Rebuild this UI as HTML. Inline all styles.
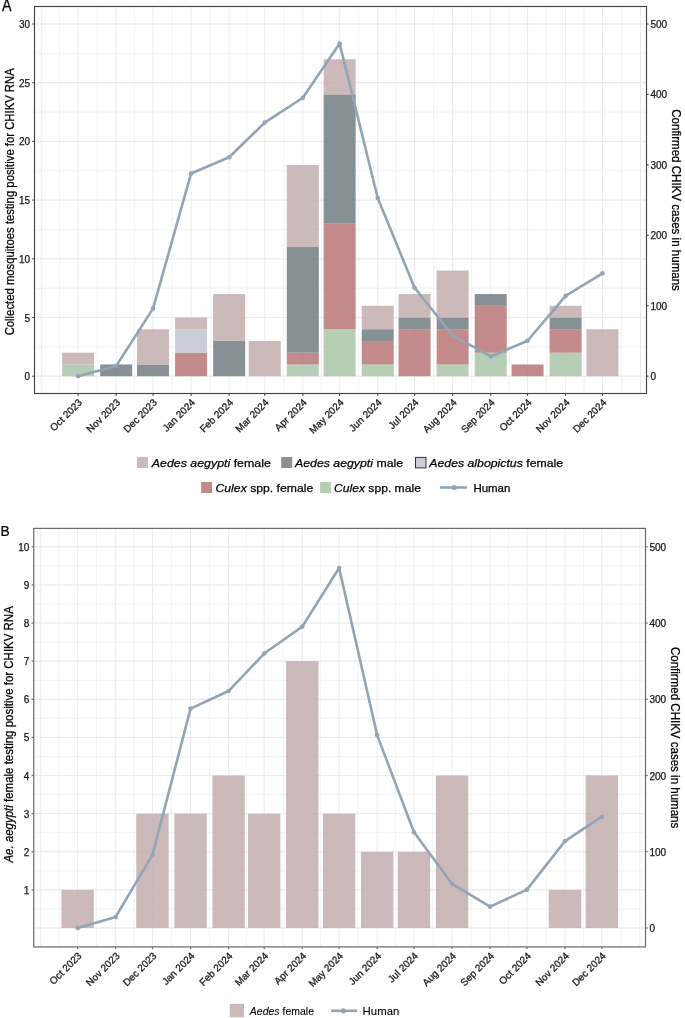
<!DOCTYPE html>
<html><head><meta charset="utf-8"><style>
html,body{margin:0;padding:0;background:#fff;}
svg{display:block;will-change:transform;font-variant-ligatures:none;}
text{stroke:currentColor;stroke-width:0.25px;paint-order:stroke;}
</style></head><body>
<svg width="685" height="1018" viewBox="0 0 685 1018" font-family='"Liberation Sans", sans-serif'>
<rect width="685" height="1018" fill="#ffffff"/>
<g>
<clipPath id="clipA"><rect x="34.5" y="6.5" width="612.0" height="387.0"/></clipPath>
<g clip-path="url(#clipA)">
<line x1="59.68" y1="6.5" x2="59.68" y2="393.5" stroke="#f2f2f2" stroke-width="1"/>
<line x1="97.13" y1="6.5" x2="97.13" y2="393.5" stroke="#f2f2f2" stroke-width="1"/>
<line x1="134.59" y1="6.5" x2="134.59" y2="393.5" stroke="#f2f2f2" stroke-width="1"/>
<line x1="172.04" y1="6.5" x2="172.04" y2="393.5" stroke="#f2f2f2" stroke-width="1"/>
<line x1="210.11" y1="6.5" x2="210.11" y2="393.5" stroke="#f2f2f2" stroke-width="1"/>
<line x1="246.95" y1="6.5" x2="246.95" y2="393.5" stroke="#f2f2f2" stroke-width="1"/>
<line x1="283.79" y1="6.5" x2="283.79" y2="393.5" stroke="#f2f2f2" stroke-width="1"/>
<line x1="321.24" y1="6.5" x2="321.24" y2="393.5" stroke="#f2f2f2" stroke-width="1"/>
<line x1="358.70" y1="6.5" x2="358.70" y2="393.5" stroke="#f2f2f2" stroke-width="1"/>
<line x1="396.15" y1="6.5" x2="396.15" y2="393.5" stroke="#f2f2f2" stroke-width="1"/>
<line x1="433.61" y1="6.5" x2="433.61" y2="393.5" stroke="#f2f2f2" stroke-width="1"/>
<line x1="471.67" y1="6.5" x2="471.67" y2="393.5" stroke="#f2f2f2" stroke-width="1"/>
<line x1="509.13" y1="6.5" x2="509.13" y2="393.5" stroke="#f2f2f2" stroke-width="1"/>
<line x1="546.58" y1="6.5" x2="546.58" y2="393.5" stroke="#f2f2f2" stroke-width="1"/>
<line x1="584.04" y1="6.5" x2="584.04" y2="393.5" stroke="#f2f2f2" stroke-width="1"/>
<line x1="621.49" y1="6.5" x2="621.49" y2="393.5" stroke="#f2f2f2" stroke-width="1"/>
<line x1="34.5" y1="376.20" x2="646.5" y2="376.20" stroke="#f2f2f2" stroke-width="1"/>
<line x1="34.5" y1="346.85" x2="646.5" y2="346.85" stroke="#f2f2f2" stroke-width="1"/>
<line x1="34.5" y1="317.50" x2="646.5" y2="317.50" stroke="#f2f2f2" stroke-width="1"/>
<line x1="34.5" y1="288.15" x2="646.5" y2="288.15" stroke="#f2f2f2" stroke-width="1"/>
<line x1="34.5" y1="258.80" x2="646.5" y2="258.80" stroke="#f2f2f2" stroke-width="1"/>
<line x1="34.5" y1="229.45" x2="646.5" y2="229.45" stroke="#f2f2f2" stroke-width="1"/>
<line x1="34.5" y1="200.10" x2="646.5" y2="200.10" stroke="#f2f2f2" stroke-width="1"/>
<line x1="34.5" y1="170.75" x2="646.5" y2="170.75" stroke="#f2f2f2" stroke-width="1"/>
<line x1="34.5" y1="141.40" x2="646.5" y2="141.40" stroke="#f2f2f2" stroke-width="1"/>
<line x1="34.5" y1="112.05" x2="646.5" y2="112.05" stroke="#f2f2f2" stroke-width="1"/>
<line x1="34.5" y1="82.70" x2="646.5" y2="82.70" stroke="#f2f2f2" stroke-width="1"/>
<line x1="34.5" y1="53.35" x2="646.5" y2="53.35" stroke="#f2f2f2" stroke-width="1"/>
<line x1="34.5" y1="24.00" x2="646.5" y2="24.00" stroke="#f2f2f2" stroke-width="1"/>
<line x1="41.26" y1="6.5" x2="41.26" y2="393.5" stroke="#ebebeb" stroke-width="1"/>
<line x1="78.10" y1="6.5" x2="78.10" y2="393.5" stroke="#ebebeb" stroke-width="1"/>
<line x1="116.17" y1="6.5" x2="116.17" y2="393.5" stroke="#ebebeb" stroke-width="1"/>
<line x1="153.01" y1="6.5" x2="153.01" y2="393.5" stroke="#ebebeb" stroke-width="1"/>
<line x1="191.08" y1="6.5" x2="191.08" y2="393.5" stroke="#ebebeb" stroke-width="1"/>
<line x1="229.14" y1="6.5" x2="229.14" y2="393.5" stroke="#ebebeb" stroke-width="1"/>
<line x1="264.76" y1="6.5" x2="264.76" y2="393.5" stroke="#ebebeb" stroke-width="1"/>
<line x1="302.82" y1="6.5" x2="302.82" y2="393.5" stroke="#ebebeb" stroke-width="1"/>
<line x1="339.66" y1="6.5" x2="339.66" y2="393.5" stroke="#ebebeb" stroke-width="1"/>
<line x1="377.73" y1="6.5" x2="377.73" y2="393.5" stroke="#ebebeb" stroke-width="1"/>
<line x1="414.57" y1="6.5" x2="414.57" y2="393.5" stroke="#ebebeb" stroke-width="1"/>
<line x1="452.64" y1="6.5" x2="452.64" y2="393.5" stroke="#ebebeb" stroke-width="1"/>
<line x1="490.71" y1="6.5" x2="490.71" y2="393.5" stroke="#ebebeb" stroke-width="1"/>
<line x1="527.55" y1="6.5" x2="527.55" y2="393.5" stroke="#ebebeb" stroke-width="1"/>
<line x1="565.62" y1="6.5" x2="565.62" y2="393.5" stroke="#ebebeb" stroke-width="1"/>
<line x1="602.46" y1="6.5" x2="602.46" y2="393.5" stroke="#ebebeb" stroke-width="1"/>
<line x1="640.52" y1="6.5" x2="640.52" y2="393.5" stroke="#ebebeb" stroke-width="1"/>
<line x1="34.5" y1="376.20" x2="646.5" y2="376.20" stroke="#ebebeb" stroke-width="1"/>
<line x1="34.5" y1="317.50" x2="646.5" y2="317.50" stroke="#ebebeb" stroke-width="1"/>
<line x1="34.5" y1="258.80" x2="646.5" y2="258.80" stroke="#ebebeb" stroke-width="1"/>
<line x1="34.5" y1="200.10" x2="646.5" y2="200.10" stroke="#ebebeb" stroke-width="1"/>
<line x1="34.5" y1="141.40" x2="646.5" y2="141.40" stroke="#ebebeb" stroke-width="1"/>
<line x1="34.5" y1="82.70" x2="646.5" y2="82.70" stroke="#ebebeb" stroke-width="1"/>
<line x1="34.5" y1="24.00" x2="646.5" y2="24.00" stroke="#ebebeb" stroke-width="1"/>
<rect x="62.10" y="364.46" width="32.00" height="11.74" fill="#a9c4a9" fill-opacity="0.85"/>
<rect x="62.10" y="352.72" width="32.00" height="11.74" fill="#c3adad" fill-opacity="0.85"/>
<rect x="100.17" y="364.46" width="32.00" height="11.74" fill="#717c83" fill-opacity="0.85"/>
<rect x="137.01" y="364.46" width="32.00" height="11.74" fill="#717c83" fill-opacity="0.85"/>
<rect x="137.01" y="329.24" width="32.00" height="35.22" fill="#c3adad" fill-opacity="0.85"/>
<rect x="175.08" y="352.72" width="32.00" height="23.48" fill="#b77575" fill-opacity="0.85"/>
<rect x="175.08" y="329.24" width="32.00" height="23.48" fill="#c4c4d3" fill-opacity="0.85"/>
<rect x="175.08" y="317.50" width="32.00" height="11.74" fill="#c3adad" fill-opacity="0.85"/>
<rect x="213.14" y="340.98" width="32.00" height="35.22" fill="#717c83" fill-opacity="0.85"/>
<rect x="213.14" y="294.02" width="32.00" height="46.96" fill="#c3adad" fill-opacity="0.85"/>
<rect x="248.76" y="340.98" width="32.00" height="35.22" fill="#c3adad" fill-opacity="0.85"/>
<rect x="286.82" y="364.46" width="32.00" height="11.74" fill="#a9c4a9" fill-opacity="0.85"/>
<rect x="286.82" y="352.72" width="32.00" height="11.74" fill="#b77575" fill-opacity="0.85"/>
<rect x="286.82" y="247.06" width="32.00" height="105.66" fill="#717c83" fill-opacity="0.85"/>
<rect x="286.82" y="164.88" width="32.00" height="82.18" fill="#c3adad" fill-opacity="0.85"/>
<rect x="323.66" y="329.24" width="32.00" height="46.96" fill="#a9c4a9" fill-opacity="0.85"/>
<rect x="323.66" y="223.58" width="32.00" height="105.66" fill="#b77575" fill-opacity="0.85"/>
<rect x="323.66" y="94.44" width="32.00" height="129.14" fill="#717c83" fill-opacity="0.85"/>
<rect x="323.66" y="59.22" width="32.00" height="35.22" fill="#c3adad" fill-opacity="0.85"/>
<rect x="361.73" y="364.46" width="32.00" height="11.74" fill="#a9c4a9" fill-opacity="0.85"/>
<rect x="361.73" y="340.98" width="32.00" height="23.48" fill="#b77575" fill-opacity="0.85"/>
<rect x="361.73" y="329.24" width="32.00" height="11.74" fill="#717c83" fill-opacity="0.85"/>
<rect x="361.73" y="305.76" width="32.00" height="23.48" fill="#c3adad" fill-opacity="0.85"/>
<rect x="398.57" y="329.24" width="32.00" height="46.96" fill="#b77575" fill-opacity="0.85"/>
<rect x="398.57" y="317.50" width="32.00" height="11.74" fill="#717c83" fill-opacity="0.85"/>
<rect x="398.57" y="294.02" width="32.00" height="23.48" fill="#c3adad" fill-opacity="0.85"/>
<rect x="436.64" y="364.46" width="32.00" height="11.74" fill="#a9c4a9" fill-opacity="0.85"/>
<rect x="436.64" y="329.24" width="32.00" height="35.22" fill="#b77575" fill-opacity="0.85"/>
<rect x="436.64" y="317.50" width="32.00" height="11.74" fill="#717c83" fill-opacity="0.85"/>
<rect x="436.64" y="270.54" width="32.00" height="46.96" fill="#c3adad" fill-opacity="0.85"/>
<rect x="474.71" y="352.72" width="32.00" height="23.48" fill="#a9c4a9" fill-opacity="0.85"/>
<rect x="474.71" y="305.76" width="32.00" height="46.96" fill="#b77575" fill-opacity="0.85"/>
<rect x="474.71" y="294.02" width="32.00" height="11.74" fill="#717c83" fill-opacity="0.85"/>
<rect x="511.55" y="364.46" width="32.00" height="11.74" fill="#b77575" fill-opacity="0.85"/>
<rect x="549.62" y="352.72" width="32.00" height="23.48" fill="#a9c4a9" fill-opacity="0.85"/>
<rect x="549.62" y="329.24" width="32.00" height="23.48" fill="#b77575" fill-opacity="0.85"/>
<rect x="549.62" y="317.50" width="32.00" height="11.74" fill="#717c83" fill-opacity="0.85"/>
<rect x="549.62" y="305.76" width="32.00" height="11.74" fill="#c3adad" fill-opacity="0.85"/>
<rect x="586.46" y="329.24" width="32.00" height="46.96" fill="#c3adad" fill-opacity="0.85"/>
<polyline points="78.10,376.20 116.17,365.99 153.01,308.58 191.08,173.47 229.14,157.27 264.76,122.62 302.82,97.75 339.66,43.58 377.73,197.99 414.57,287.80 452.64,335.34 490.71,356.48 527.55,340.77 565.62,295.90 602.46,273.36" fill="none" stroke="#92a4b5" stroke-width="2.6" stroke-linejoin="round" stroke-linecap="butt"/>
<circle cx="78.10" cy="376.20" r="2.3" fill="#92a4b5"/>
<circle cx="116.17" cy="365.99" r="2.3" fill="#92a4b5"/>
<circle cx="153.01" cy="308.58" r="2.3" fill="#92a4b5"/>
<circle cx="191.08" cy="173.47" r="2.3" fill="#92a4b5"/>
<circle cx="229.14" cy="157.27" r="2.3" fill="#92a4b5"/>
<circle cx="264.76" cy="122.62" r="2.3" fill="#92a4b5"/>
<circle cx="302.82" cy="97.75" r="2.3" fill="#92a4b5"/>
<circle cx="339.66" cy="43.58" r="2.3" fill="#92a4b5"/>
<circle cx="377.73" cy="197.99" r="2.3" fill="#92a4b5"/>
<circle cx="414.57" cy="287.80" r="2.3" fill="#92a4b5"/>
<circle cx="452.64" cy="335.34" r="2.3" fill="#92a4b5"/>
<circle cx="490.71" cy="356.48" r="2.3" fill="#92a4b5"/>
<circle cx="527.55" cy="340.77" r="2.3" fill="#92a4b5"/>
<circle cx="565.62" cy="295.90" r="2.3" fill="#92a4b5"/>
<circle cx="602.46" cy="273.36" r="2.3" fill="#92a4b5"/>
</g>
<rect x="34.5" y="6.5" width="612.0" height="387.0" fill="none" stroke="#444444" stroke-width="1.15"/>
<line x1="32.3" y1="376.20" x2="34.5" y2="376.20" stroke="#444444" stroke-width="1.15"/>
<text x="30.099999999999998" y="380.20" font-size="10.0" text-anchor="end" fill="#1a1a1a">0</text>
<line x1="32.3" y1="317.50" x2="34.5" y2="317.50" stroke="#444444" stroke-width="1.15"/>
<text x="30.099999999999998" y="321.50" font-size="10.0" text-anchor="end" fill="#1a1a1a">5</text>
<line x1="32.3" y1="258.80" x2="34.5" y2="258.80" stroke="#444444" stroke-width="1.15"/>
<text x="30.099999999999998" y="262.80" font-size="10.0" text-anchor="end" fill="#1a1a1a">10</text>
<line x1="32.3" y1="200.10" x2="34.5" y2="200.10" stroke="#444444" stroke-width="1.15"/>
<text x="30.099999999999998" y="204.10" font-size="10.0" text-anchor="end" fill="#1a1a1a">15</text>
<line x1="32.3" y1="141.40" x2="34.5" y2="141.40" stroke="#444444" stroke-width="1.15"/>
<text x="30.099999999999998" y="145.40" font-size="10.0" text-anchor="end" fill="#1a1a1a">20</text>
<line x1="32.3" y1="82.70" x2="34.5" y2="82.70" stroke="#444444" stroke-width="1.15"/>
<text x="30.099999999999998" y="86.70" font-size="10.0" text-anchor="end" fill="#1a1a1a">25</text>
<line x1="32.3" y1="24.00" x2="34.5" y2="24.00" stroke="#444444" stroke-width="1.15"/>
<text x="30.099999999999998" y="28.00" font-size="10.0" text-anchor="end" fill="#1a1a1a">30</text>
<line x1="646.5" y1="376.20" x2="648.7" y2="376.20" stroke="#444444" stroke-width="1.15"/>
<text x="650.5000000000001" y="380.20" font-size="10.0" text-anchor="start" fill="#1a1a1a">0</text>
<line x1="646.5" y1="305.76" x2="648.7" y2="305.76" stroke="#444444" stroke-width="1.15"/>
<text x="650.5000000000001" y="309.76" font-size="10.0" text-anchor="start" fill="#1a1a1a">100</text>
<line x1="646.5" y1="235.32" x2="648.7" y2="235.32" stroke="#444444" stroke-width="1.15"/>
<text x="650.5000000000001" y="239.32" font-size="10.0" text-anchor="start" fill="#1a1a1a">200</text>
<line x1="646.5" y1="164.88" x2="648.7" y2="164.88" stroke="#444444" stroke-width="1.15"/>
<text x="650.5000000000001" y="168.88" font-size="10.0" text-anchor="start" fill="#1a1a1a">300</text>
<line x1="646.5" y1="94.44" x2="648.7" y2="94.44" stroke="#444444" stroke-width="1.15"/>
<text x="650.5000000000001" y="98.44" font-size="10.0" text-anchor="start" fill="#1a1a1a">400</text>
<line x1="646.5" y1="24.00" x2="648.7" y2="24.00" stroke="#444444" stroke-width="1.15"/>
<text x="650.5000000000001" y="28.00" font-size="10.0" text-anchor="start" fill="#1a1a1a">500</text>
<line x1="78.10" y1="393.5" x2="78.10" y2="395.7" stroke="#444444" stroke-width="1.15"/>
<text transform="translate(82.80,403.10) rotate(-45)" font-size="10.0" text-anchor="end" fill="#1a1a1a">Oct 2023</text>
<line x1="116.17" y1="393.5" x2="116.17" y2="395.7" stroke="#444444" stroke-width="1.15"/>
<text transform="translate(120.87,403.10) rotate(-45)" font-size="10.0" text-anchor="end" fill="#1a1a1a">Nov 2023</text>
<line x1="153.01" y1="393.5" x2="153.01" y2="395.7" stroke="#444444" stroke-width="1.15"/>
<text transform="translate(157.71,403.10) rotate(-45)" font-size="10.0" text-anchor="end" fill="#1a1a1a">Dec 2023</text>
<line x1="191.08" y1="393.5" x2="191.08" y2="395.7" stroke="#444444" stroke-width="1.15"/>
<text transform="translate(195.78,403.10) rotate(-45)" font-size="10.0" text-anchor="end" fill="#1a1a1a">Jan 2024</text>
<line x1="229.14" y1="393.5" x2="229.14" y2="395.7" stroke="#444444" stroke-width="1.15"/>
<text transform="translate(233.84,403.10) rotate(-45)" font-size="10.0" text-anchor="end" fill="#1a1a1a">Feb 2024</text>
<line x1="264.76" y1="393.5" x2="264.76" y2="395.7" stroke="#444444" stroke-width="1.15"/>
<text transform="translate(269.46,403.10) rotate(-45)" font-size="10.0" text-anchor="end" fill="#1a1a1a">Mar 2024</text>
<line x1="302.82" y1="393.5" x2="302.82" y2="395.7" stroke="#444444" stroke-width="1.15"/>
<text transform="translate(307.52,403.10) rotate(-45)" font-size="10.0" text-anchor="end" fill="#1a1a1a">Apr 2024</text>
<line x1="339.66" y1="393.5" x2="339.66" y2="395.7" stroke="#444444" stroke-width="1.15"/>
<text transform="translate(344.36,403.10) rotate(-45)" font-size="10.0" text-anchor="end" fill="#1a1a1a">May 2024</text>
<line x1="377.73" y1="393.5" x2="377.73" y2="395.7" stroke="#444444" stroke-width="1.15"/>
<text transform="translate(382.43,403.10) rotate(-45)" font-size="10.0" text-anchor="end" fill="#1a1a1a">Jun 2024</text>
<line x1="414.57" y1="393.5" x2="414.57" y2="395.7" stroke="#444444" stroke-width="1.15"/>
<text transform="translate(419.27,403.10) rotate(-45)" font-size="10.0" text-anchor="end" fill="#1a1a1a">Jul 2024</text>
<line x1="452.64" y1="393.5" x2="452.64" y2="395.7" stroke="#444444" stroke-width="1.15"/>
<text transform="translate(457.34,403.10) rotate(-45)" font-size="10.0" text-anchor="end" fill="#1a1a1a">Aug 2024</text>
<line x1="490.71" y1="393.5" x2="490.71" y2="395.7" stroke="#444444" stroke-width="1.15"/>
<text transform="translate(495.41,403.10) rotate(-45)" font-size="10.0" text-anchor="end" fill="#1a1a1a">Sep 2024</text>
<line x1="527.55" y1="393.5" x2="527.55" y2="395.7" stroke="#444444" stroke-width="1.15"/>
<text transform="translate(532.25,403.10) rotate(-45)" font-size="10.0" text-anchor="end" fill="#1a1a1a">Oct 2024</text>
<line x1="565.62" y1="393.5" x2="565.62" y2="395.7" stroke="#444444" stroke-width="1.15"/>
<text transform="translate(570.32,403.10) rotate(-45)" font-size="10.0" text-anchor="end" fill="#1a1a1a">Nov 2024</text>
<line x1="602.46" y1="393.5" x2="602.46" y2="395.7" stroke="#444444" stroke-width="1.15"/>
<text transform="translate(607.16,403.10) rotate(-45)" font-size="10.0" text-anchor="end" fill="#1a1a1a">Dec 2024</text>
</g>
<g>
<clipPath id="clipB"><rect x="33.75" y="528.4" width="611.75" height="418.5"/></clipPath>
<g clip-path="url(#clipB)">
<line x1="59.18" y1="528.4" x2="59.18" y2="946.9" stroke="#f2f2f2" stroke-width="1"/>
<line x1="96.63" y1="528.4" x2="96.63" y2="946.9" stroke="#f2f2f2" stroke-width="1"/>
<line x1="134.07" y1="528.4" x2="134.07" y2="946.9" stroke="#f2f2f2" stroke-width="1"/>
<line x1="171.52" y1="528.4" x2="171.52" y2="946.9" stroke="#f2f2f2" stroke-width="1"/>
<line x1="209.58" y1="528.4" x2="209.58" y2="946.9" stroke="#f2f2f2" stroke-width="1"/>
<line x1="246.41" y1="528.4" x2="246.41" y2="946.9" stroke="#f2f2f2" stroke-width="1"/>
<line x1="283.24" y1="528.4" x2="283.24" y2="946.9" stroke="#f2f2f2" stroke-width="1"/>
<line x1="320.68" y1="528.4" x2="320.68" y2="946.9" stroke="#f2f2f2" stroke-width="1"/>
<line x1="358.13" y1="528.4" x2="358.13" y2="946.9" stroke="#f2f2f2" stroke-width="1"/>
<line x1="395.57" y1="528.4" x2="395.57" y2="946.9" stroke="#f2f2f2" stroke-width="1"/>
<line x1="433.02" y1="528.4" x2="433.02" y2="946.9" stroke="#f2f2f2" stroke-width="1"/>
<line x1="471.08" y1="528.4" x2="471.08" y2="946.9" stroke="#f2f2f2" stroke-width="1"/>
<line x1="508.52" y1="528.4" x2="508.52" y2="946.9" stroke="#f2f2f2" stroke-width="1"/>
<line x1="545.97" y1="528.4" x2="545.97" y2="946.9" stroke="#f2f2f2" stroke-width="1"/>
<line x1="583.41" y1="528.4" x2="583.41" y2="946.9" stroke="#f2f2f2" stroke-width="1"/>
<line x1="620.86" y1="528.4" x2="620.86" y2="946.9" stroke="#f2f2f2" stroke-width="1"/>
<line x1="33.75" y1="928.00" x2="645.5" y2="928.00" stroke="#f2f2f2" stroke-width="1"/>
<line x1="33.75" y1="908.94" x2="645.5" y2="908.94" stroke="#f2f2f2" stroke-width="1"/>
<line x1="33.75" y1="889.88" x2="645.5" y2="889.88" stroke="#f2f2f2" stroke-width="1"/>
<line x1="33.75" y1="870.82" x2="645.5" y2="870.82" stroke="#f2f2f2" stroke-width="1"/>
<line x1="33.75" y1="851.76" x2="645.5" y2="851.76" stroke="#f2f2f2" stroke-width="1"/>
<line x1="33.75" y1="832.70" x2="645.5" y2="832.70" stroke="#f2f2f2" stroke-width="1"/>
<line x1="33.75" y1="813.64" x2="645.5" y2="813.64" stroke="#f2f2f2" stroke-width="1"/>
<line x1="33.75" y1="794.58" x2="645.5" y2="794.58" stroke="#f2f2f2" stroke-width="1"/>
<line x1="33.75" y1="775.52" x2="645.5" y2="775.52" stroke="#f2f2f2" stroke-width="1"/>
<line x1="33.75" y1="756.46" x2="645.5" y2="756.46" stroke="#f2f2f2" stroke-width="1"/>
<line x1="33.75" y1="737.40" x2="645.5" y2="737.40" stroke="#f2f2f2" stroke-width="1"/>
<line x1="33.75" y1="718.34" x2="645.5" y2="718.34" stroke="#f2f2f2" stroke-width="1"/>
<line x1="33.75" y1="699.28" x2="645.5" y2="699.28" stroke="#f2f2f2" stroke-width="1"/>
<line x1="33.75" y1="680.22" x2="645.5" y2="680.22" stroke="#f2f2f2" stroke-width="1"/>
<line x1="33.75" y1="661.16" x2="645.5" y2="661.16" stroke="#f2f2f2" stroke-width="1"/>
<line x1="33.75" y1="642.10" x2="645.5" y2="642.10" stroke="#f2f2f2" stroke-width="1"/>
<line x1="33.75" y1="623.04" x2="645.5" y2="623.04" stroke="#f2f2f2" stroke-width="1"/>
<line x1="33.75" y1="603.98" x2="645.5" y2="603.98" stroke="#f2f2f2" stroke-width="1"/>
<line x1="33.75" y1="584.92" x2="645.5" y2="584.92" stroke="#f2f2f2" stroke-width="1"/>
<line x1="33.75" y1="565.86" x2="645.5" y2="565.86" stroke="#f2f2f2" stroke-width="1"/>
<line x1="33.75" y1="546.80" x2="645.5" y2="546.80" stroke="#f2f2f2" stroke-width="1"/>
<line x1="40.77" y1="528.4" x2="40.77" y2="946.9" stroke="#ebebeb" stroke-width="1"/>
<line x1="77.60" y1="528.4" x2="77.60" y2="946.9" stroke="#ebebeb" stroke-width="1"/>
<line x1="115.66" y1="528.4" x2="115.66" y2="946.9" stroke="#ebebeb" stroke-width="1"/>
<line x1="152.49" y1="528.4" x2="152.49" y2="946.9" stroke="#ebebeb" stroke-width="1"/>
<line x1="190.55" y1="528.4" x2="190.55" y2="946.9" stroke="#ebebeb" stroke-width="1"/>
<line x1="228.61" y1="528.4" x2="228.61" y2="946.9" stroke="#ebebeb" stroke-width="1"/>
<line x1="264.21" y1="528.4" x2="264.21" y2="946.9" stroke="#ebebeb" stroke-width="1"/>
<line x1="302.27" y1="528.4" x2="302.27" y2="946.9" stroke="#ebebeb" stroke-width="1"/>
<line x1="339.10" y1="528.4" x2="339.10" y2="946.9" stroke="#ebebeb" stroke-width="1"/>
<line x1="377.16" y1="528.4" x2="377.16" y2="946.9" stroke="#ebebeb" stroke-width="1"/>
<line x1="413.99" y1="528.4" x2="413.99" y2="946.9" stroke="#ebebeb" stroke-width="1"/>
<line x1="452.05" y1="528.4" x2="452.05" y2="946.9" stroke="#ebebeb" stroke-width="1"/>
<line x1="490.11" y1="528.4" x2="490.11" y2="946.9" stroke="#ebebeb" stroke-width="1"/>
<line x1="526.94" y1="528.4" x2="526.94" y2="946.9" stroke="#ebebeb" stroke-width="1"/>
<line x1="565.00" y1="528.4" x2="565.00" y2="946.9" stroke="#ebebeb" stroke-width="1"/>
<line x1="601.83" y1="528.4" x2="601.83" y2="946.9" stroke="#ebebeb" stroke-width="1"/>
<line x1="639.89" y1="528.4" x2="639.89" y2="946.9" stroke="#ebebeb" stroke-width="1"/>
<line x1="33.75" y1="928.00" x2="645.5" y2="928.00" stroke="#ebebeb" stroke-width="1"/>
<line x1="33.75" y1="889.88" x2="645.5" y2="889.88" stroke="#ebebeb" stroke-width="1"/>
<line x1="33.75" y1="851.76" x2="645.5" y2="851.76" stroke="#ebebeb" stroke-width="1"/>
<line x1="33.75" y1="813.64" x2="645.5" y2="813.64" stroke="#ebebeb" stroke-width="1"/>
<line x1="33.75" y1="775.52" x2="645.5" y2="775.52" stroke="#ebebeb" stroke-width="1"/>
<line x1="33.75" y1="737.40" x2="645.5" y2="737.40" stroke="#ebebeb" stroke-width="1"/>
<line x1="33.75" y1="699.28" x2="645.5" y2="699.28" stroke="#ebebeb" stroke-width="1"/>
<line x1="33.75" y1="661.16" x2="645.5" y2="661.16" stroke="#ebebeb" stroke-width="1"/>
<line x1="33.75" y1="623.04" x2="645.5" y2="623.04" stroke="#ebebeb" stroke-width="1"/>
<line x1="33.75" y1="584.92" x2="645.5" y2="584.92" stroke="#ebebeb" stroke-width="1"/>
<line x1="33.75" y1="546.80" x2="645.5" y2="546.80" stroke="#ebebeb" stroke-width="1"/>
<rect x="61.40" y="889.88" width="32.40" height="38.12" fill="#c3adad" fill-opacity="0.85"/>
<rect x="136.29" y="813.64" width="32.40" height="114.36" fill="#c3adad" fill-opacity="0.85"/>
<rect x="174.35" y="813.64" width="32.40" height="114.36" fill="#c3adad" fill-opacity="0.85"/>
<rect x="212.41" y="775.52" width="32.40" height="152.48" fill="#c3adad" fill-opacity="0.85"/>
<rect x="248.01" y="813.64" width="32.40" height="114.36" fill="#c3adad" fill-opacity="0.85"/>
<rect x="286.07" y="661.16" width="32.40" height="266.84" fill="#c3adad" fill-opacity="0.85"/>
<rect x="322.90" y="813.64" width="32.40" height="114.36" fill="#c3adad" fill-opacity="0.85"/>
<rect x="360.96" y="851.76" width="32.40" height="76.24" fill="#c3adad" fill-opacity="0.85"/>
<rect x="397.79" y="851.76" width="32.40" height="76.24" fill="#c3adad" fill-opacity="0.85"/>
<rect x="435.85" y="775.52" width="32.40" height="152.48" fill="#c3adad" fill-opacity="0.85"/>
<rect x="548.80" y="889.88" width="32.40" height="38.12" fill="#c3adad" fill-opacity="0.85"/>
<rect x="585.63" y="775.52" width="32.40" height="152.48" fill="#c3adad" fill-opacity="0.85"/>
<polyline points="77.60,928.00 115.66,916.95 152.49,854.81 190.55,708.58 228.61,691.05 264.21,653.54 302.27,626.62 339.10,567.99 377.16,735.11 413.99,832.32 452.05,883.78 490.11,906.65 526.94,889.65 565.00,841.09 601.83,816.69" fill="none" stroke="#92a4b5" stroke-width="2.6" stroke-linejoin="round" stroke-linecap="butt"/>
<circle cx="77.60" cy="928.00" r="2.3" fill="#92a4b5"/>
<circle cx="115.66" cy="916.95" r="2.3" fill="#92a4b5"/>
<circle cx="152.49" cy="854.81" r="2.3" fill="#92a4b5"/>
<circle cx="190.55" cy="708.58" r="2.3" fill="#92a4b5"/>
<circle cx="228.61" cy="691.05" r="2.3" fill="#92a4b5"/>
<circle cx="264.21" cy="653.54" r="2.3" fill="#92a4b5"/>
<circle cx="302.27" cy="626.62" r="2.3" fill="#92a4b5"/>
<circle cx="339.10" cy="567.99" r="2.3" fill="#92a4b5"/>
<circle cx="377.16" cy="735.11" r="2.3" fill="#92a4b5"/>
<circle cx="413.99" cy="832.32" r="2.3" fill="#92a4b5"/>
<circle cx="452.05" cy="883.78" r="2.3" fill="#92a4b5"/>
<circle cx="490.11" cy="906.65" r="2.3" fill="#92a4b5"/>
<circle cx="526.94" cy="889.65" r="2.3" fill="#92a4b5"/>
<circle cx="565.00" cy="841.09" r="2.3" fill="#92a4b5"/>
<circle cx="601.83" cy="816.69" r="2.3" fill="#92a4b5"/>
</g>
<rect x="33.75" y="528.4" width="611.75" height="418.5" fill="none" stroke="#6e6e6e" stroke-width="1.25"/>
<line x1="31.55" y1="889.88" x2="33.75" y2="889.88" stroke="#6e6e6e" stroke-width="1.25"/>
<text x="29.35" y="893.88" font-size="10.0" text-anchor="end" fill="#1a1a1a">1</text>
<line x1="31.55" y1="851.76" x2="33.75" y2="851.76" stroke="#6e6e6e" stroke-width="1.25"/>
<text x="29.35" y="855.76" font-size="10.0" text-anchor="end" fill="#1a1a1a">2</text>
<line x1="31.55" y1="813.64" x2="33.75" y2="813.64" stroke="#6e6e6e" stroke-width="1.25"/>
<text x="29.35" y="817.64" font-size="10.0" text-anchor="end" fill="#1a1a1a">3</text>
<line x1="31.55" y1="775.52" x2="33.75" y2="775.52" stroke="#6e6e6e" stroke-width="1.25"/>
<text x="29.35" y="779.52" font-size="10.0" text-anchor="end" fill="#1a1a1a">4</text>
<line x1="31.55" y1="737.40" x2="33.75" y2="737.40" stroke="#6e6e6e" stroke-width="1.25"/>
<text x="29.35" y="741.40" font-size="10.0" text-anchor="end" fill="#1a1a1a">5</text>
<line x1="31.55" y1="699.28" x2="33.75" y2="699.28" stroke="#6e6e6e" stroke-width="1.25"/>
<text x="29.35" y="703.28" font-size="10.0" text-anchor="end" fill="#1a1a1a">6</text>
<line x1="31.55" y1="661.16" x2="33.75" y2="661.16" stroke="#6e6e6e" stroke-width="1.25"/>
<text x="29.35" y="665.16" font-size="10.0" text-anchor="end" fill="#1a1a1a">7</text>
<line x1="31.55" y1="623.04" x2="33.75" y2="623.04" stroke="#6e6e6e" stroke-width="1.25"/>
<text x="29.35" y="627.04" font-size="10.0" text-anchor="end" fill="#1a1a1a">8</text>
<line x1="31.55" y1="584.92" x2="33.75" y2="584.92" stroke="#6e6e6e" stroke-width="1.25"/>
<text x="29.35" y="588.92" font-size="10.0" text-anchor="end" fill="#1a1a1a">9</text>
<line x1="31.55" y1="546.80" x2="33.75" y2="546.80" stroke="#6e6e6e" stroke-width="1.25"/>
<text x="29.35" y="550.80" font-size="10.0" text-anchor="end" fill="#1a1a1a">10</text>
<line x1="645.5" y1="928.00" x2="647.7" y2="928.00" stroke="#6e6e6e" stroke-width="1.25"/>
<text x="649.5000000000001" y="932.00" font-size="10.0" text-anchor="start" fill="#1a1a1a">0</text>
<line x1="645.5" y1="851.76" x2="647.7" y2="851.76" stroke="#6e6e6e" stroke-width="1.25"/>
<text x="649.5000000000001" y="855.76" font-size="10.0" text-anchor="start" fill="#1a1a1a">100</text>
<line x1="645.5" y1="775.52" x2="647.7" y2="775.52" stroke="#6e6e6e" stroke-width="1.25"/>
<text x="649.5000000000001" y="779.52" font-size="10.0" text-anchor="start" fill="#1a1a1a">200</text>
<line x1="645.5" y1="699.28" x2="647.7" y2="699.28" stroke="#6e6e6e" stroke-width="1.25"/>
<text x="649.5000000000001" y="703.28" font-size="10.0" text-anchor="start" fill="#1a1a1a">300</text>
<line x1="645.5" y1="623.04" x2="647.7" y2="623.04" stroke="#6e6e6e" stroke-width="1.25"/>
<text x="649.5000000000001" y="627.04" font-size="10.0" text-anchor="start" fill="#1a1a1a">400</text>
<line x1="645.5" y1="546.80" x2="647.7" y2="546.80" stroke="#6e6e6e" stroke-width="1.25"/>
<text x="649.5000000000001" y="550.80" font-size="10.0" text-anchor="start" fill="#1a1a1a">500</text>
<line x1="77.60" y1="946.9" x2="77.60" y2="949.1" stroke="#6e6e6e" stroke-width="1.25"/>
<text transform="translate(82.30,956.50) rotate(-45)" font-size="10.0" text-anchor="end" fill="#1a1a1a">Oct 2023</text>
<line x1="115.66" y1="946.9" x2="115.66" y2="949.1" stroke="#6e6e6e" stroke-width="1.25"/>
<text transform="translate(120.36,956.50) rotate(-45)" font-size="10.0" text-anchor="end" fill="#1a1a1a">Nov 2023</text>
<line x1="152.49" y1="946.9" x2="152.49" y2="949.1" stroke="#6e6e6e" stroke-width="1.25"/>
<text transform="translate(157.19,956.50) rotate(-45)" font-size="10.0" text-anchor="end" fill="#1a1a1a">Dec 2023</text>
<line x1="190.55" y1="946.9" x2="190.55" y2="949.1" stroke="#6e6e6e" stroke-width="1.25"/>
<text transform="translate(195.25,956.50) rotate(-45)" font-size="10.0" text-anchor="end" fill="#1a1a1a">Jan 2024</text>
<line x1="228.61" y1="946.9" x2="228.61" y2="949.1" stroke="#6e6e6e" stroke-width="1.25"/>
<text transform="translate(233.31,956.50) rotate(-45)" font-size="10.0" text-anchor="end" fill="#1a1a1a">Feb 2024</text>
<line x1="264.21" y1="946.9" x2="264.21" y2="949.1" stroke="#6e6e6e" stroke-width="1.25"/>
<text transform="translate(268.91,956.50) rotate(-45)" font-size="10.0" text-anchor="end" fill="#1a1a1a">Mar 2024</text>
<line x1="302.27" y1="946.9" x2="302.27" y2="949.1" stroke="#6e6e6e" stroke-width="1.25"/>
<text transform="translate(306.97,956.50) rotate(-45)" font-size="10.0" text-anchor="end" fill="#1a1a1a">Apr 2024</text>
<line x1="339.10" y1="946.9" x2="339.10" y2="949.1" stroke="#6e6e6e" stroke-width="1.25"/>
<text transform="translate(343.80,956.50) rotate(-45)" font-size="10.0" text-anchor="end" fill="#1a1a1a">May 2024</text>
<line x1="377.16" y1="946.9" x2="377.16" y2="949.1" stroke="#6e6e6e" stroke-width="1.25"/>
<text transform="translate(381.86,956.50) rotate(-45)" font-size="10.0" text-anchor="end" fill="#1a1a1a">Jun 2024</text>
<line x1="413.99" y1="946.9" x2="413.99" y2="949.1" stroke="#6e6e6e" stroke-width="1.25"/>
<text transform="translate(418.69,956.50) rotate(-45)" font-size="10.0" text-anchor="end" fill="#1a1a1a">Jul 2024</text>
<line x1="452.05" y1="946.9" x2="452.05" y2="949.1" stroke="#6e6e6e" stroke-width="1.25"/>
<text transform="translate(456.75,956.50) rotate(-45)" font-size="10.0" text-anchor="end" fill="#1a1a1a">Aug 2024</text>
<line x1="490.11" y1="946.9" x2="490.11" y2="949.1" stroke="#6e6e6e" stroke-width="1.25"/>
<text transform="translate(494.81,956.50) rotate(-45)" font-size="10.0" text-anchor="end" fill="#1a1a1a">Sep 2024</text>
<line x1="526.94" y1="946.9" x2="526.94" y2="949.1" stroke="#6e6e6e" stroke-width="1.25"/>
<text transform="translate(531.64,956.50) rotate(-45)" font-size="10.0" text-anchor="end" fill="#1a1a1a">Oct 2024</text>
<line x1="565.00" y1="946.9" x2="565.00" y2="949.1" stroke="#6e6e6e" stroke-width="1.25"/>
<text transform="translate(569.70,956.50) rotate(-45)" font-size="10.0" text-anchor="end" fill="#1a1a1a">Nov 2024</text>
<line x1="601.83" y1="946.9" x2="601.83" y2="949.1" stroke="#6e6e6e" stroke-width="1.25"/>
<text transform="translate(606.53,956.50) rotate(-45)" font-size="10.0" text-anchor="end" fill="#1a1a1a">Dec 2024</text>
</g>
<text transform="translate(1.9,11.0) scale(0.89,1)" font-size="16" fill="#000">A</text>
<text transform="translate(0.6,535.7) scale(0.93,1)" font-size="14.8" fill="#000">B</text>
<text transform="translate(13.90,201.82) rotate(-90)" font-size="11.9" text-anchor="middle" textLength="267.1" lengthAdjust="spacingAndGlyphs" fill="#000">Collected mosquitoes testing positive for CHIKV RNA</text>
<text transform="translate(671.80,200.05) rotate(90)" font-size="12.0" text-anchor="middle" textLength="181.7" lengthAdjust="spacingAndGlyphs" fill="#000">Confirmed CHIKV cases in humans</text>
<text transform="translate(13.20,734.40) rotate(-90)" font-size="11.9" text-anchor="middle" textLength="256.4" lengthAdjust="spacingAndGlyphs" fill="#000"><tspan font-style="italic">Ae. aegypti</tspan> female testing positive for CHIKV RNA</text>
<text transform="translate(671.40,737.60) rotate(90)" font-size="12.0" text-anchor="middle" textLength="181.4" lengthAdjust="spacingAndGlyphs" fill="#000">Confirmed CHIKV cases in humans</text>
<rect x="137" y="457" width="11" height="11" fill="#ccb9b9"/>
<text x="151.8" y="467.0" font-size="11.7" fill="#000" textLength="119.0" lengthAdjust="spacingAndGlyphs" xml:space="preserve"><tspan font-style="italic">Aedes aegypti</tspan> female</text>
<rect x="281.2" y="457" width="11" height="11" fill="#869096"/>
<text x="295.0" y="467.0" font-size="11.7" fill="#000" textLength="108.1" lengthAdjust="spacingAndGlyphs" xml:space="preserve"><tspan font-style="italic">Aedes aegypti</tspan> male</text>
<rect x="415.5" y="457.4" width="10.5" height="10.5" fill="#cdcdda" stroke="#333" stroke-width="1"/>
<text x="429.3" y="467.0" font-size="11.7" fill="#000" textLength="133.8" lengthAdjust="spacingAndGlyphs" xml:space="preserve"><tspan font-style="italic">Aedes albopictus</tspan> female</text>
<rect x="201.1" y="482" width="11" height="11" fill="#c28a8a"/>
<text x="215.5" y="492.1" font-size="11.7" fill="#000" textLength="97.8" lengthAdjust="spacingAndGlyphs" xml:space="preserve"><tspan font-style="italic">Culex</tspan> spp. female</text>
<rect x="320.1" y="482" width="11" height="11" fill="#b6cdb6"/>
<text x="334.0" y="492.1" font-size="11.7" fill="#000" textLength="86.9" lengthAdjust="spacingAndGlyphs" xml:space="preserve"><tspan font-style="italic">Culex</tspan> spp. male</text>
<line x1="439.9" y1="487.5" x2="466.9" y2="487.5" stroke="#92a4b5" stroke-width="2.6"/>
<circle cx="454.2" cy="487.5" r="2.6" fill="#92a4b5"/>
<text x="473.4" y="492.1" font-size="11" fill="#000" textLength="37.0" lengthAdjust="spacingAndGlyphs" xml:space="preserve">Human</text>
<rect x="229.8" y="1003.8" width="14.2" height="13.4" fill="#ccb9b9"/>
<text x="249.8" y="1014.9" font-size="10.6" fill="#000" textLength="64.2" lengthAdjust="spacingAndGlyphs" style="stroke-width:0.1px" xml:space="preserve"><tspan font-style="italic">Aedes</tspan> female</text>
<line x1="331" y1="1010.8" x2="357.2" y2="1010.8" stroke="#92a4b5" stroke-width="2.6"/>
<circle cx="343.4" cy="1010.8" r="2.6" fill="#92a4b5"/>
<text x="362.6" y="1014.9" font-size="10.6" fill="#000" textLength="36.7" lengthAdjust="spacingAndGlyphs" style="stroke-width:0.1px" xml:space="preserve">Human</text>
</svg>
</body></html>
